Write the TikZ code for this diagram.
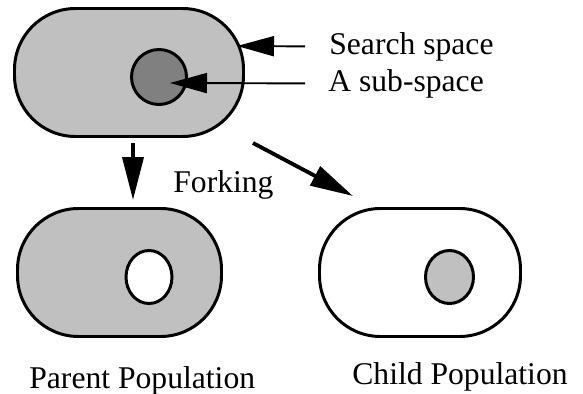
\documentclass[tikz,border=0pt]{standalone}
\usepackage{fontspec}
\setmainfont{Liberation Serif}
\usepackage{tikz}
\usetikzlibrary{calc}
\usetikzlibrary{arrows.meta}
\usetikzlibrary{shapes.geometric}

\definecolor{spacegray}{HTML}{C0C0C0}
\definecolor{subgray}{HTML}{808080}

\tikzset{
	popbox/.style={draw, line width=1.7pt, rounded corners=1.22cm, minimum height=2.56cm},
	subspace/.style={draw, line width=1.7pt, ellipse, inner sep=0pt},
	pointer/.style={line width=1.1pt, -{Triangle[length=0.74cm, width=0.4cm]}},
	fork/.style={line width=2.2pt, -{Triangle[length=0.86cm, width=0.42cm]}},
	caption/.style={font=\rmfamily\fontsize{18}{22}\selectfont, inner sep=0pt}
}

\begin{document}
\begin{tikzpicture}
	\useasboundingbox (0,0) rectangle (11.66,-7.88);

	% Search space with its sub-space
	\node (search) [popbox, fill=spacegray, minimum width=4.58cm] at (2.58,-1.45) {};
	\node (sub) [subspace, fill=subgray, minimum width=1.1cm, minimum height=1.1cm] at (3.18,-1.54) {};

	\node (searchlbl) [caption, anchor=base west, inner xsep=0.48cm] at (6.1,-1.08) {Search space};
	\node (sublbl) [caption, anchor=base west, inner xsep=0.46cm] at (6.1,-1.82) {A sub-space};

	\coordinate (searchtip) at (4.74,-0.92);
	\coordinate (subtip) at (3.4,-1.66);

	\draw [pointer] (searchlbl.west) -- (searchtip);
	\draw [pointer] (sublbl.west) -- (subtip);

	% Parent and child populations
	\node (parent) [popbox, fill=spacegray, minimum width=4.08cm] at (2.39,-5.45) {};
	\node (hole) [subspace, fill=white, minimum width=0.92cm, minimum height=1.06cm] at (2.98,-5.54) {};

	\node (child) [popbox, fill=white, minimum width=4.02cm] at (8.4,-5.45) {};
	\node (part) [subspace, fill=spacegray, minimum width=0.96cm, minimum height=1.06cm] at (8.99,-5.54) {};

	% Forking
	\draw [fork] ([xshift=0.08cm, yshift=-0.1cm]search.south) -- ([xshift=0.08cm, yshift=0.14cm]search.south |- parent.north);
	\draw [fork] ([shift={(0.16,-0.1)}]search.south east) -- ([shift={(0.7,0.22)}]child.north west);

	\node (forking) [caption, anchor=base west] at (3.46,-3.84) {Forking};

	\node (parentlbl) [caption, anchor=base west] at (0.58,-7.76) {Parent Population};
	\node (childlbl) [caption, anchor=base west] at (7.04,-7.68) {Child Population};

\end{tikzpicture}
\end{document}
